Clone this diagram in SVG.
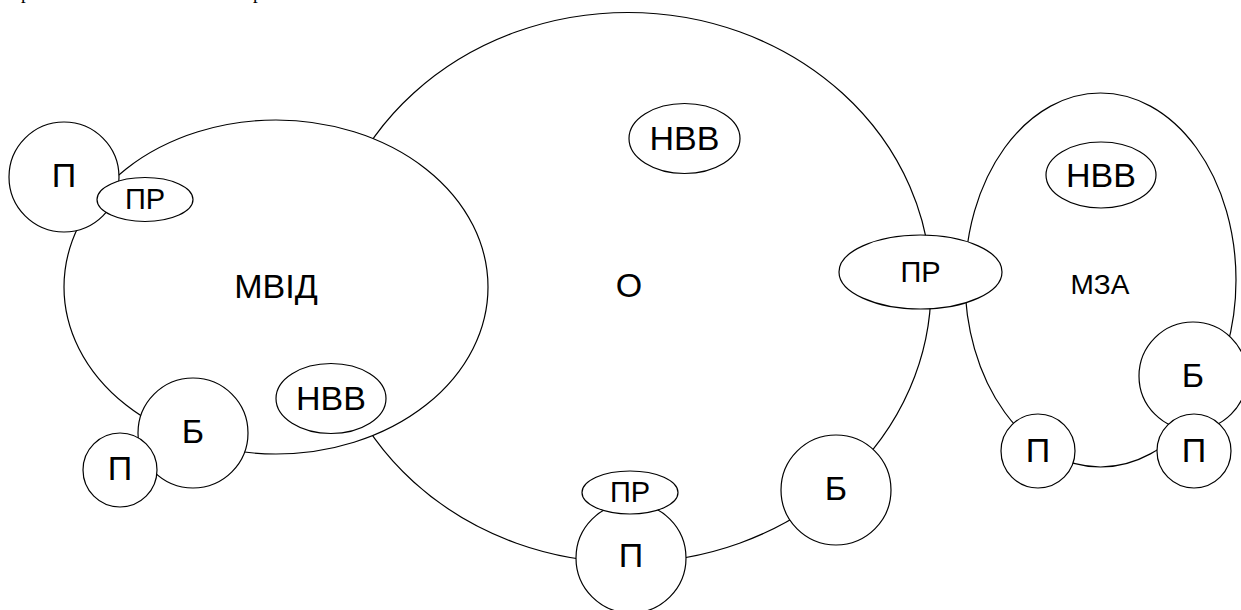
<svg xmlns="http://www.w3.org/2000/svg" width="1241" height="610" viewBox="0 0 1241 610">
<style>
.s{fill:#fff;stroke:#000;stroke-width:1.2}
.t{font-family:"Liberation Sans",Arial,sans-serif;font-size:34px;fill:#000;text-anchor:middle}
.pr{font-size:29px}
.mza{font-size:28px}
.cut{font-family:"Liberation Serif","Times New Roman",serif;font-size:19px;fill:#000}
</style>
<rect width="1241" height="610" fill="#fff"/>
<text class="cut" x="21" y="-1">р</text>
<text class="cut" x="253" y="-1">р</text>
<g id="connectors"></g>
<g id="O"><ellipse class="s" cx="628" cy="287.5" rx="303" ry="275"/><text class="t" x="629" y="297">О</text></g>
<g id="MVID"><ellipse class="s" cx="276" cy="287" rx="212" ry="167"/><text class="t" x="276" y="298">МВІД</text></g>
<g id="P1"><circle class="s" cx="64" cy="177" r="55"/><text class="t" x="64" y="187">П</text></g>
<g id="PR1"><ellipse class="s" cx="145" cy="199.5" rx="48" ry="22"/><text class="t pr" x="145" y="209">ПР</text></g>
<g id="HBB1"><ellipse class="s" cx="331" cy="398.5" rx="55" ry="35"/><text class="t" x="331" y="410">НВВ</text></g>
<g id="B1"><circle class="s" cx="193" cy="433" r="55"/><text class="t" x="193" y="443">Б</text></g>
<g id="P2"><circle class="s" cx="120" cy="470" r="37"/><text class="t" x="120" y="480">П</text></g>
<g id="HBB2"><ellipse class="s" cx="684.5" cy="138.5" rx="55.5" ry="35"/><text class="t" x="684.5" y="150">НВВ</text></g>
<g id="P3"><circle class="s" cx="631" cy="558" r="55"/><text class="t" x="631" y="567">П</text></g>
<g id="PR3"><ellipse class="s" cx="630" cy="492.5" rx="48" ry="21.5"/><text class="t pr" x="630" y="502">ПР</text></g>
<g id="B3"><circle class="s" cx="836" cy="490" r="55"/><text class="t" x="836" y="500">Б</text></g>
<g id="MZA"><ellipse class="s" cx="1100.5" cy="280" rx="135.5" ry="187"/><text class="t mza" x="1100" y="294">МЗА</text></g>
<g id="HBB4"><ellipse class="s" cx="1101" cy="175" rx="55" ry="33"/><text class="t" x="1101" y="187">НВВ</text></g>
<g id="B4"><circle class="s" cx="1193" cy="376" r="54"/><text class="t" x="1193" y="387">Б</text></g>
<g id="P4"><circle class="s" cx="1038" cy="451" r="37"/><text class="t" x="1038" y="462">П</text></g>
<g id="P5"><circle class="s" cx="1194" cy="451" r="37"/><text class="t" x="1194" y="462">П</text></g>
<g id="PR2"><ellipse class="s" cx="920.5" cy="272" rx="81.5" ry="37"/><text class="t pr" x="920.5" y="282">ПР</text></g>
</svg>
